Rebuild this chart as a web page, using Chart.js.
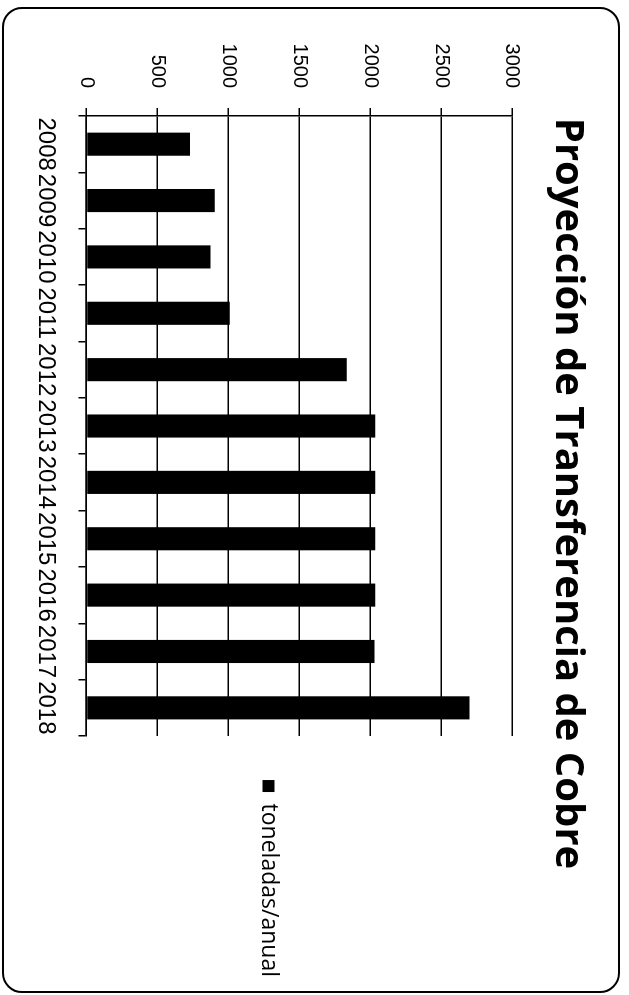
<!DOCTYPE html>
<html>
<head>
<meta charset="utf-8">
<script src="https://cdn.jsdelivr.net/npm/chart.js@4"></script>
<style>
  html, body { margin: 0; padding: 0; background: #fff; overflow: hidden; }
  #frame {
    position: absolute; left: 2px; top: 7px; width: 614px; height: 982px;
    border: 2.5px solid #000; border-radius: 20px; pointer-events: none;
  }
  #rot {
    position: absolute; left: 0; top: 0; width: 995px; height: 629px;
    transform-origin: 0 0; transform: translate(629px, 0) rotate(90deg);
  }
</style>
</head>
<body>
<div id="rot"><canvas id="chart" width="995" height="629"></canvas></div>
<div id="frame"></div>
<script>
const years = ['2008', '2009', '2010', '2011', '2012', '2013', '2014', '2015', '2016', '2017', '2018'];
const toneladas = [730, 905, 875, 1010, 1835, 2035, 2035, 2035, 2035, 2030, 2700];
const yTicks = { min: 0, max: 3000, step: 500 };

const tickFont = { family: '"Liberation Sans", Arial, sans-serif' };

new Chart(document.getElementById('chart'), {
  type: 'bar',
  data: {
    labels: years,
    datasets: [{
      label: 'toneladas/anual',
      data: toneladas,
      backgroundColor: '#000',
      borderWidth: 0,
      categoryPercentage: 1,
      barPercentage: 0.41
    }]
  },
  options: {
    responsive: false,
    devicePixelRatio: 1,
    animation: false,
    layout: { padding: { left: 0, right: 8, top: 0, bottom: 0 } },
    plugins: {
      title: {
        display: true,
        text: 'Proyección de Transferencia de Cobre',
        color: '#000',
        font: { family: '"Open Sans", sans-serif', size: 40, weight: 'bold', lineHeight: 1.2 },
        padding: { top: 38, bottom: 31 }
      },
      legend: {
        position: 'right',
        align: 'center',
        maxWidth: 300,
        // empty title only pushes the single entry towards the value axis
        title: { display: true, text: ' ', padding: 40, font: { size: 10 } },
        labels: {
          boxWidth: 12,
          boxHeight: 12,
          padding: 10,
          color: '#000',
          font: { family: '"Open Sans", sans-serif', size: 23 }
        }
      },
      tooltip: { enabled: false }
    },
    scales: {
      x: {
        grid: { offset: true, drawOnChartArea: false, tickLength: 8, color: '#000', lineWidth: 1.5 },
        border: { color: '#000', width: 1.5 },
        ticks: {
          color: '#000', padding: 18, maxRotation: 0, minRotation: 0, autoSkip: false,
          font: { ...tickFont, size: 24 }
        },
        afterFit(s) { s.height = 86.5; }
      },
      y: {
        min: yTicks.min,
        max: yTicks.max,
        grid: { color: '#000', lineWidth: 1.5, tickLength: 8 },
        border: { color: '#000', width: 1.5 },
        ticks: {
          stepSize: yTicks.step, color: '#000', padding: 20,
          font: { ...tickFont, size: 20 },
          callback: v => String(v)
        },
        afterFit(s) { s.width = 116; }
      },
      y2: {
        position: 'right',
        display: true,
        grid: { display: false },
        border: { display: false },
        ticks: { display: false },
        afterFit(s) { s.width = 34; }
      }
    }
  }
});
</script>
</body>
</html>
